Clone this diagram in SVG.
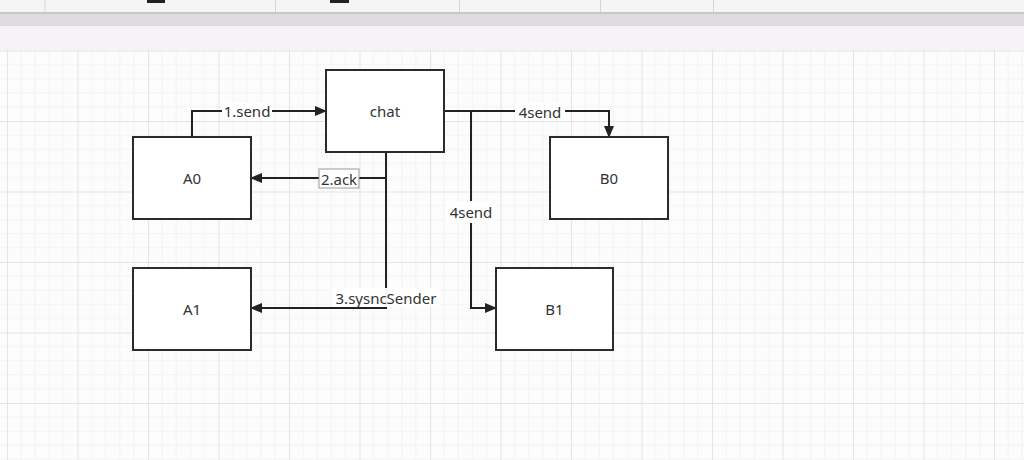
<svg xmlns="http://www.w3.org/2000/svg" width="1024" height="460" viewBox="0 0 1024 460">
<style>
.node rect{fill:#fff;stroke:#2b2b2b;stroke-width:2}
.node text,.lbl{font-family:"Noto Sans","Open Sans",sans-serif;font-size:15px;fill:#333;text-anchor:middle;dominant-baseline:central}
.edge{fill:none;stroke:#222;stroke-width:2}
.lblbg{fill:#fff}
</style>
<defs>
<pattern id="grid" patternUnits="userSpaceOnUse" x="7" y="50.5" width="70.5" height="70.5">
<rect width="70.5" height="70.5" fill="#fdfcfd"/>
<path d="M14.1 0V70.5M28.2 0V70.5M42.3 0V70.5M56.4 0V70.5M0 14.1H70.5M0 28.2H70.5M0 42.3H70.5M0 56.4H70.5" stroke="#f5f2f6" stroke-width="1" fill="none"/>
<path d="M0.5 0V70.5M0 0.5H70.5" stroke="#e6e2e8" stroke-width="1" fill="none"/>
</pattern>
<marker id="arr" markerWidth="12" markerHeight="10" refX="11" refY="5" orient="auto" markerUnits="userSpaceOnUse">
<path d="M0 0L12 5L0 10Z" fill="#222"/>
</marker>
</defs>
<!-- editor chrome -->
<rect x="0" y="0" width="1024" height="13" fill="#f6f5f6"/>
<rect x="147" y="0" width="18" height="3" fill="#222"/>
<rect x="330" y="0" width="19" height="3" fill="#222"/>
<path d="M45 0V12M275.5 0V12M459.5 0V12M600.5 0V12M713.5 0V12" stroke="#d6d4d6" stroke-width="1"/>
<rect x="0" y="12" width="1024" height="2" fill="#c9c7ca"/>
<rect x="0" y="14" width="1024" height="12" fill="#dedcdf"/>
<rect x="0" y="26" width="1024" height="24" fill="#f5f3f6"/>
<rect x="0" y="50" width="1024" height="410" fill="url(#grid)"/>

<g id="connectors">
<g id="e1">
<path class="edge" d="M192 137V111H326" marker-end="url(#arr)"/>
<rect class="lblbg" x="222" y="103" width="50" height="16"/>
<text class="lbl" x="247" y="111">1.send</text>
</g>
<g id="e2">
<path class="edge" d="M386 152V178H251" marker-end="url(#arr)"/>
<rect class="lblbg" x="319" y="169" width="40" height="19" stroke="#9a9a9a" stroke-width="1"/>
<text class="lbl" x="339" y="178.5">2.ack</text>
</g>
<g id="e3">
<path class="edge" d="M386 178V308H251" marker-end="url(#arr)"/>
<rect class="lblbg" x="332" y="288" width="108" height="19" opacity="0.95"/>
<text class="lbl" x="386" y="298">3.sysncSender</text>
</g>
<g id="e4">
<path class="edge" d="M444 111H609V137" marker-end="url(#arr)"/>
<rect class="lblbg" x="515" y="103" width="50" height="16"/>
<text class="lbl" x="540" y="112">4send</text>
</g>
<g id="e5">
<path class="edge" d="M471 111V308H496" marker-end="url(#arr)"/>
<rect class="lblbg" x="446" y="201" width="50" height="22"/>
<text class="lbl" x="471" y="212">4send</text>
</g>
</g>

<g id="chat" class="node"><rect x="326" y="70" width="118" height="82"/><text x="385" y="111">chat</text></g>
<g id="A0" class="node"><rect x="133" y="137" width="118" height="82"/><text x="192" y="178">A0</text></g>
<g id="A1" class="node"><rect x="133" y="268" width="118" height="82"/><text x="192" y="309">A1</text></g>
<g id="B0" class="node"><rect x="550" y="137" width="118" height="82"/><text x="609" y="178">B0</text></g>
<g id="B1" class="node"><rect x="496" y="268" width="117" height="82"/><text x="554.5" y="309">B1</text></g>
</svg>
